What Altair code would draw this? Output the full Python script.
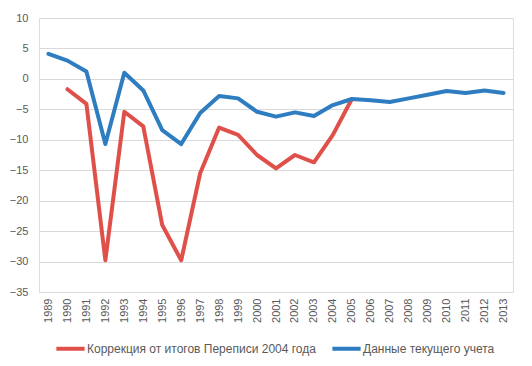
import altair as alt
import pandas as pd

years = list(range(1989, 2014))
current = [4.1, 3.0, 1.2, -10.7, 1.0, -1.9, -8.4, -10.7, -5.6, -2.8, -3.2, -5.4,
           -6.2, -5.5, -6.1, -4.3, -3.3, -3.5, -3.8, -3.2, -2.6, -2.0, -2.3, -1.9, -2.3]
correction = [None, -1.7, -4.1, -29.8, -5.4, -7.8, -24.0, -29.8, -15.5, -8.0, -9.2, -12.5,
              -14.7, -12.5, -13.7, -9.2, -3.3, None, None, None, None, None, None, None, None]

s_corr = "Коррекция от итогов Переписи 2004 года"
s_curr = "Данные текущего учета"

rows = []
for y, c in zip(years, correction):
    if c is not None:
        rows.append({"year": str(y), "value": c, "series": s_corr})
for y, c in zip(years, current):
    rows.append({"year": str(y), "value": c, "series": s_curr})
df = pd.DataFrame(rows)

font = "Liberation Sans"

chart = alt.Chart(df).mark_line(strokeWidth=4, strokeCap="round", strokeJoin="round").encode(
    x=alt.X("year:O", title=None, sort=[str(y) for y in years],
            scale=alt.Scale(type="point", padding=0.5, domain=[str(y) for y in years]),
            axis=alt.Axis(labelAngle=270, labelFontSize=11, labelColor="#595959",
                          domain=False, ticks=False, grid=False, labelPadding=6,
                          labelFont=font)),
    y=alt.Y("value:Q", title=None,
            scale=alt.Scale(domain=[-35, 10], nice=False),
            axis=alt.Axis(values=list(range(-35, 11, 5)), labelFontSize=11, labelColor="#595959",
                          domain=False, ticks=False, gridColor="#d9d9d9", gridWidth=1,
                          labelPadding=11, labelFont=font)),
    color=alt.Color("series:N", title=None,
                    scale=alt.Scale(domain=[s_corr, s_curr], range=["#E0504A", "#2E7DC0"]),
                    legend=alt.Legend(orient="none", direction="horizontal", legendX=15, legendY=314,
                                      symbolType="stroke", symbolSize=800, symbolStrokeWidth=4,
                                      labelFontSize=12, labelColor="#595959", labelFont=font,
                                      columnPadding=8, labelOffset=0, labelLimit=400)),
    order=alt.Order("year:O"),
).properties(
    width=474, height=274,
    autosize=alt.AutoSizeParams(type="none"),
    padding={"left": 31, "top": 10, "right": 11, "bottom": 72},
).configure_view(stroke=None).configure(background="white")

chart.save("out.html", embed_options={"renderer": "svg", "actions": False})
